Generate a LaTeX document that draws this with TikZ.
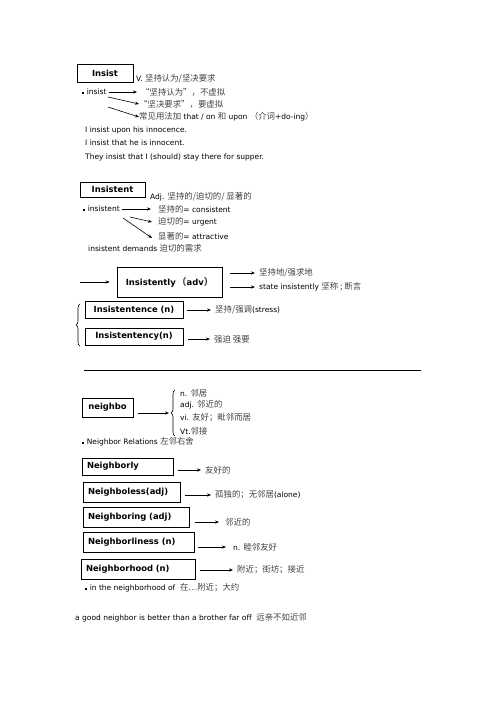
\documentclass[tikz,border=0pt]{standalone}
\usepackage{fontspec}
\setmainfont{DejaVu Sans}
\newfontfamily\cjk[Scale=1.12]{Noto Sans CJK SC}
\usetikzlibrary{arrows.meta,decorations.pathreplacing}
\newcommand{\zh}[1]{{\cjk\mdseries\color{black!75}#1}}
\newcommand{\bul}{\raisebox{1.2pt}{\rule{1.6pt}{1.6pt}}\hspace{3pt}}
\begin{document}
\begin{tikzpicture}[x=1pt,y=-1pt,
  wbox/.style={draw, line width=0.8pt, inner sep=0pt, font=\bfseries\fontsize{8.4}{10}\selectfont},
  lbox/.style={wbox, inner xsep=5pt, text width=#1, align=left},
  txt/.style={anchor=west, inner sep=0pt, font=\fontsize{7.5}{9}\selectfont},
  arr/.style={-{Stealth[length=4pt,width=3.2pt]}, line width=0.6pt},
  lbrace/.style={decorate, decoration={brace, amplitude=4pt}, line width=0.6pt}]
\useasboundingbox (0,0) rectangle (496,702);

% ---- Insist
\node[wbox, minimum width=56pt, minimum height=18pt] (insist) at (105,73) {Insist};
\node[txt] (v1) at (136,79) {V. \zh{坚持认为/坚决要求}};
\node[txt] (ins) at (82,92) {\bul insist};
\node[txt] (t1) at (141,92) {\zh{“坚持认为”，不虚拟}};
\node[txt] (t2) at (139,104) {\zh{“坚决要求”，要虚拟}};
\node[txt] (t3) at (139,117) {\zh{常见用法加} that / on \zh{和} upon \zh{（介词}+do-ing\zh{）}};
\coordinate (c2) at (108,97);
\coordinate (c3) at (108,107);
\draw[arr] ([xshift=2pt]ins.east) -- ([xshift=-4pt]t1.west);
\draw[arr] (c2) -- (t2.west);
\draw[arr] (c3) -- (t3.west);
\node[txt] (s1) at (85,130) {I insist upon his innocence.};
\node[txt] (s2) at (85,143) {I insist that he is innocent.};
\node[txt] (s3) at (85,157) {They insist that I (should) stay there for supper.};

% ---- Insistent
\node[wbox, minimum width=65pt, minimum height=15pt] (insistent) at (112.5,189.5) {Insistent};
\node[txt] (a1) at (150,197) {Adj. \zh{坚持的/迫切的/ 显著的}};
\node[txt] (ient) at (83,209) {\bul insistent};
\node[txt] (u1) at (158,209) {\zh{坚持的}= consistent};
\node[txt] (u2) at (158,222) {\zh{迫切的}= urgent};
\node[txt] (u3) at (158,236) {\zh{显著的}= attractive};
\coordinate (d2) at (130,217);
\coordinate (d3) at (123,218);
\draw[arr] ([xshift=2pt]ient.east) -- ([xshift=-7pt]u1.west);
\draw[arr] (d2) -- ([xshift=-6pt]u2.west);
\draw[arr] (d3) -- ([xshift=-6pt,yshift=-2pt]u3.west);
\node[txt] (dem) at (88,248) {insistent demands \zh{迫切的需求}};

% ---- Insistently
\node[wbox, minimum width=105pt, minimum height=30pt] (ly) at (169.5,282) {Insistently\,\zh{\bfseries（}adv\zh{\bfseries）}};
\coordinate (lyin) at (80,282);
\draw[arr, shorten >=7pt] (lyin) -- (ly.west);
\node[txt] (ly1) at (259,273) {\zh{坚持地/强求地}};
\node[txt] (ly2) at (259,287) {state insistently \zh{坚称 ; 断言}};
\draw[arr] ([xshift=8pt]ly.east |- ly1) -- ([xshift=-4pt]ly1.west);
\draw[arr] ([xshift=8pt]ly.east |- ly2) -- ([xshift=-4pt]ly2.west);

\node[wbox, minimum width=98pt, minimum height=17pt] (ce) at (134,309.5) {Insistentence (n)};
\node[txt] (cet) at (215,310) {\zh{坚持/强调}(stress)};
\draw[arr] ([xshift=4pt]ce.east |- cet) -- ([xshift=-4pt]cet.west);
\node[wbox, minimum width=98pt, minimum height=17pt] (cy) at (134,336.5) {Insistentency(n)};
\node[txt] (cyt) at (214,339) {\zh{强迫 强要}};
\draw[arr] ([xshift=5pt]cy.east |- cyt) -- ([xshift=-4pt]cyt.west);
\coordinate (b1t) at (80,304);
\coordinate (b1b) at (80,346);
\draw[lbrace] (b1b) -- (b1t);

% ---- separator
\coordinate (sepl) at (84,370);
\coordinate (sepr) at (421,370);
\draw[line width=0.8pt] (sepl) -- (sepr);

% ---- neighbo
\node[wbox, minimum width=51pt, minimum height=19pt] (nb) at (107.5,407.5) {neighbo};
\coordinate (b2t) at (175,390);
\coordinate (b2b) at (175,436);
\draw[lbrace] (b2b) -- (b2t);
\coordinate (b2tip) at (171,413);
\draw[arr, shorten <=5pt, shorten >=2pt] (nb.east |- b2tip) -- (b2tip);
\node[txt] (n1) at (180,393) {n. \zh{邻居}};
\node[txt] (n2) at (180,405) {adj. \zh{邻近的}};
\node[txt] (n3) at (180,418) {vi. \zh{友好；毗邻而居}};
\node[txt] (n4) at (180,431) {Vt.\zh{邻接}};
\node[txt] (rel) at (82,442) {\bul Neighbor Relations \zh{左邻右舍}};

\node[lbox=81pt, minimum height=17pt] (nly) at (127.5,466.5) {Neighborly};
\node[txt] (nlyt) at (205,470) {\zh{友好的}};
\draw[arr] ([xshift=5pt]nly.east |- nlyt) -- ([xshift=-4pt]nlyt.west);

\node[lbox=87pt, minimum height=20pt] (nls) at (131.5,492) {Neighboless(adj)};
\node[txt] (nlst) at (215,495) {\zh{孤独的；无邻居}(alone)};
\draw[arr] ([xshift=5pt]nls.east |- nlst) -- ([xshift=-4pt]nlst.west);

\node[lbox=96pt, minimum height=20pt] (nng) at (136,517) {Neighboring (adj)};
\node[txt] (nngt) at (225,522) {\zh{邻近的}};
\draw[arr] ([xshift=6pt]nng.east |- nngt) -- ([xshift=-6pt]nngt.west);

\node[lbox=101pt, minimum height=20pt] (nln) at (138.5,542) {Neighborliness (n)};
\node[txt] (nlnt) at (233,547) {n. \zh{睦邻友好}};
\draw[arr] ([xshift=4pt]nln.east |- nlnt) -- ([xshift=-7pt]nlnt.west);

\node[lbox=104pt, minimum height=20pt] (nhd) at (138,569) {Neighborhood (n)};
\node[txt] (nhdt) at (237,570) {\zh{附近；街坊；接近}};
\draw[arr] ([xshift=5pt]nhd.east |- nhdt) -- ([xshift=-4pt]nhdt.west);

\node[txt] (inh) at (85,588) {\bul in the neighborhood of \ \zh{在…附近；大约}};
\node[txt] (good) at (75,618) {a good neighbor is better than a brother far off \ \zh{远亲不如近邻}};
\end{tikzpicture}
\end{document}
